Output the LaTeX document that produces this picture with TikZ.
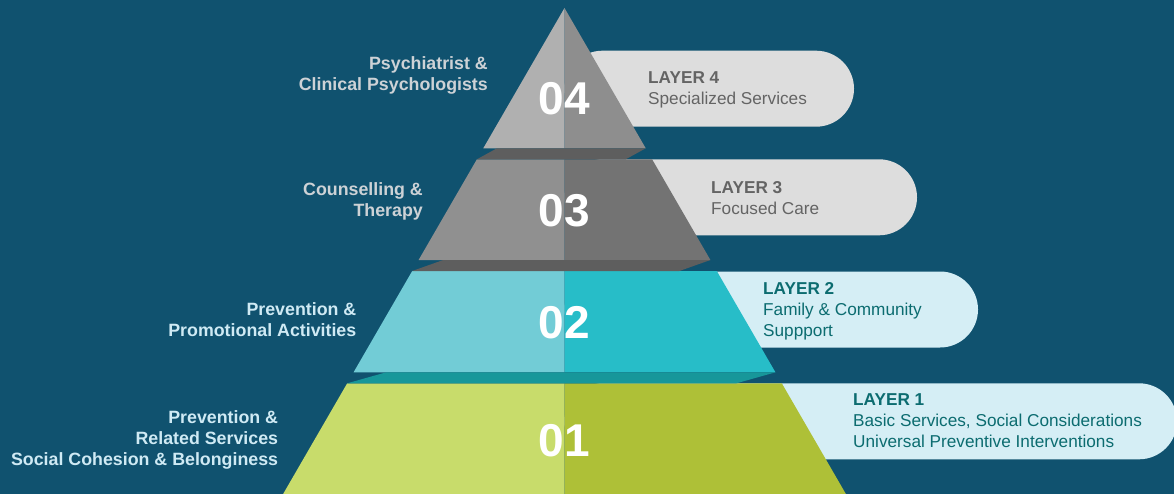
\documentclass[tikz,border=0pt]{standalone}
\usepackage{fontspec}
\setmainfont{Liberation Sans}
\usepackage{tikz}

\definecolor{bgblue}{HTML}{10526F}
\definecolor{fourL}{HTML}{B0B0B0}
\definecolor{fourR}{HTML}{8E8E8E}
\definecolor{threeL}{HTML}{909090}
\definecolor{threeR}{HTML}{737373}
\definecolor{twoL}{HTML}{72CCD6}
\definecolor{twoR}{HTML}{27BDC8}
\definecolor{oneL}{HTML}{C8DC6B}
\definecolor{oneR}{HTML}{AEC037}
\definecolor{bandgray}{HTML}{5E5E5E}
\definecolor{bandteal}{HTML}{17979A}
\definecolor{pillgray}{HTML}{DDDDDD}
\definecolor{pillblue}{HTML}{D5EEF5}
\definecolor{textgray}{HTML}{646464}
\definecolor{textteal}{HTML}{0C6C70}
\definecolor{sidegray}{HTML}{CDD2D6}
\definecolor{sideblue}{HTML}{CFEAF4}

\begin{document}
\begin{tikzpicture}[x=1pt,y=-1pt,
        numlabel/.style={text=white, inner sep=0pt, font=\fontsize{46}{46}\selectfont\bfseries},
        pilltext/.style={anchor=north west, align=left, inner sep=0pt, font=\fontsize{17.2}{21}\selectfont},
        sidetext/.style={anchor=north east, align=right, inner sep=0pt, font=\fontsize{17.8}{21}\selectfont\bfseries}]
    \useasboundingbox (0,0) rectangle (1174,494);
    \fill[bgblue] (0,0) rectangle (1174,494);

    % pills behind the pyramid
    \fill[pillgray, rounded corners=38] (564.5,50.7) rectangle (854,126.7);
    \fill[pillgray, rounded corners=38] (564.5,159.3) rectangle (917,235.3);
    \fill[pillblue, rounded corners=38] (564.5,271.5) rectangle (978,347.5);
    \fill[pillblue, rounded corners=38] (564.5,383.3) rectangle (1177,459.3);

    % layers, light half on the left
    \foreach \t/\b/\ca/\cb in {8/148.3/fourL/fourR, 159.3/260/threeL/threeR, 271/372.3/twoL/twoR, 383.3/494/oneL/oneR} {
        \pgfmathsetmacro{\wt}{0.579*(\t-8)}
        \pgfmathsetmacro{\wb}{0.579*(\b-8)}
        \fill[\ca] (564.5-\wt,\t) -- (564.5,\t) -- (564.5,\b) -- (564.5-\wb,\b) -- cycle;
        \fill[\cb] (564.5,\t) -- (564.5+\wt,\t) -- (564.5+\wb,\b) -- (564.5,\b) -- cycle;
    }

    % top faces between the layers
    \foreach \t/\b/\s/\c in {148.3/159.3/20/bandgray, 260/271/31/bandgray, 372.3/383.3/39/bandteal} {
        \pgfmathsetmacro{\wt}{0.579*(\t-8)}
        \pgfmathsetmacro{\wb}{0.579*(\b-8)}
        \fill[\c] (564.5-\wb+\s,\t) -- (564.5+\wt,\t) -- (564.5+\wt-\s,\b) -- (564.5-\wb,\b) -- cycle;
    }

    \node[numlabel] (num4) at (564.5,99) {04};
    \node[numlabel] (num3) at (564.5,211) {03};
    \node[numlabel] (num2) at (564.5,323) {02};
    \node[numlabel] (num1) at (564.5,441) {01};

    \node[pilltext, text=textgray] (layer4) at (648,71.7) {\textbf{LAYER 4}\\Specialized Services};
    \node[pilltext, text=textgray] (layer3) at (711,181) {\textbf{LAYER 3}\\Focused Care};
    \node[pilltext, text=textteal] (layer2) at (763,282.7) {\textbf{LAYER 2}\\Family \& Community\\Suppport};
    \node[pilltext, text=textteal] (layer1) at (853,393.7) {\textbf{LAYER 1}\\Basic Services, Social Considerations\\Universal Preventive Interventions};

    \node[sidetext, text=sidegray] (side4) at (488,56) {Psychiatrist \&\\Clinical Psychologists};
    \node[sidetext, text=sidegray] (side3) at (423,182) {Counselling \&\\Therapy};
    \node[sidetext, text=sideblue] (side2) at (356.5,302) {Prevention \&\\Promotional Activities};
    \node[sidetext, text=sideblue] (side1) at (278.3,410.3) {Prevention \&\\Related Services\\Social Cohesion \& Belonginess};
\end{tikzpicture}
\end{document}
